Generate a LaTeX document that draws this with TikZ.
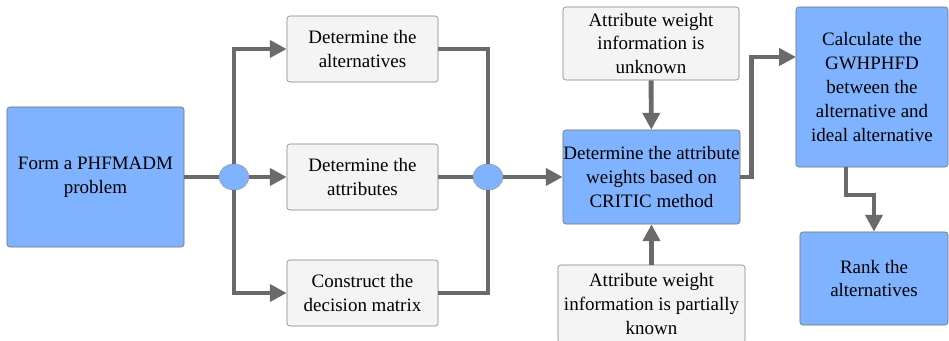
\documentclass[tikz,border=0pt]{standalone}
\usepackage{fontspec}
\setmainfont{Liberation Serif}
\usepackage{tikz}
\usetikzlibrary{arrows.meta,calc}
\usepgflibrary{shapes.geometric}
\definecolor{azul}{RGB}{128,179,255}
\definecolor{gris}{RGB}{244,244,244}
\definecolor{linea}{RGB}{106,106,106}

\begin{document}
\begin{tikzpicture}[x=0.025cm,y=-0.025cm,
  font=\rmfamily\fontsize{13.5}{17}\selectfont,
  cajaazul/.style={draw=black!55, fill=azul, rounded corners=2pt, align=center, inner sep=0pt},
  cajagris/.style={draw=black!50, fill=gris, rounded corners=2pt, align=center, inner sep=0pt},
  union/.style={ellipse, draw=black!40, fill=azul, minimum width=0.75cm, minimum height=0.65cm, inner sep=0pt},
  linea/.style={draw=linea, line width=3.5pt},
  flecha/.style={linea, -{Triangle[length=0.42cm,width=0.42cm]}}]
 \useasboundingbox (0,0) rectangle (949,341);

 % Cajas
 \node[cajaazul, minimum width=4.425cm, minimum height=3.5cm] (form) at (95.5,177) {Form a PHFMADM\\problem};
 \node[cajagris, minimum width=3.775cm, minimum height=1.65cm] (alt) at (362.5,49) {Determine the\\alternatives};
 \node[cajagris, minimum width=3.775cm, minimum height=1.65cm] (attr) at (362.5,177) {Determine the\\attributes};
 \node[cajagris, minimum width=3.775cm, minimum height=1.65cm] (dec) at (362.5,293) {Construct the\\decision matrix};
 \node[cajaazul, minimum width=4.425cm, minimum height=2.35cm] (critic) at (651.5,177) {Determine the attribute\\weights based on\\CRITIC method};
 \node[cajagris, minimum width=4.4cm, minimum height=1.825cm] (unk) at (651,43.5) {Attribute weight\\information is\\unknown};
 \node[cajagris, minimum width=4.675cm, minimum height=1.95cm] (part) at (651.5,304) {Attribute weight\\information is partially\\known};
 \node[cajaazul, minimum width=3.8cm, minimum height=4cm] (gw) at (872,87) {Calculate the\\GWHPHFD\\between the\\alternative and\\ideal alternative};
 \node[cajaazul, minimum width=3.7cm, minimum height=2.325cm] (rank) at (874,278.5) {Rank the\\alternatives};

 % Uniones
 \node[union] (e1) at (234,177) {};
 \node[union] (e2) at (488,177) {};

 % Conexiones
 \draw[linea] (form) -- (e1);
 \draw[flecha] (e1) |- (alt);
 \draw[flecha] (e1) -- (attr);
 \draw[flecha] (e1) |- (dec);
 \draw[linea] (alt) -| (e2);
 \draw[linea] (attr) -- (e2);
 \draw[linea] (dec) -| (e2);
 \draw[flecha] (e2) -- (critic);
 \draw[flecha] (unk) -- (critic);
 \draw[flecha] (part) -- (critic);

 \coordinate (gwin) at (796,57);
 \coordinate (gwout) at (846,167);
 \draw[flecha] (critic.east) -- ++(11,0) |- (gwin);
 \draw[flecha] (gwout) -- ++(0,28) -| (rank);
\end{tikzpicture}
\end{document}
